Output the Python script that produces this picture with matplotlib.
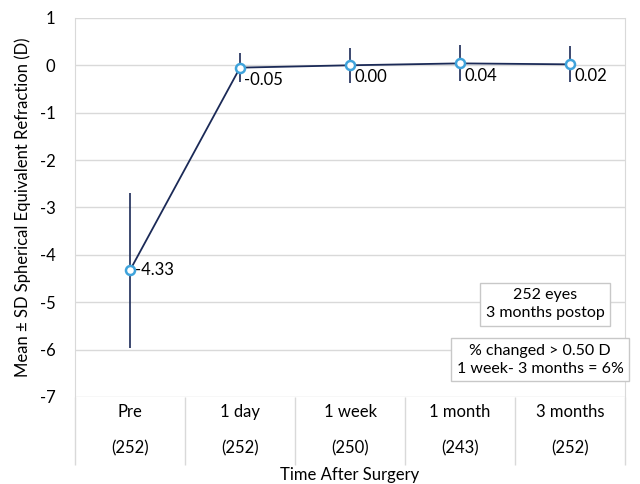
import numpy as np
import matplotlib
matplotlib.use("Agg")
import matplotlib.pyplot as plt

plt.rcParams['font.family'] = ['Lato', 'DejaVu Sans']

categories = ["Pre", "1 day", "1 week", "1 month", "3 months"]
counts = ["(252)", "(252)", "(250)", "(243)", "(252)"]
mean_se = [-4.33, -0.05, 0.00, 0.04, 0.02]
sd_se = [1.63, 0.30, 0.37, 0.38, 0.38]
value_labels = ["-4.33", "-0.05", "0.00", "0.04", "0.02"]

line_col = "#1b2a57"
marker_col = "#3fa3db"
grid_col = "#d9d9d9"
fs = 12

fig = plt.figure(figsize=(6.4, 4.84), dpi=100)
ax = fig.add_axes([0.117, 0.180, 0.860, 0.783])

x = np.arange(len(categories))
ax.errorbar(x, mean_se, yerr=sd_se, fmt="none", ecolor=line_col, elinewidth=1.2, capsize=0, zorder=2)
ax.plot(x, mean_se, color=line_col, lw=1.3, zorder=3)
ax.plot(x, mean_se, "o", ms=6.5, mfc="white", mec=marker_col, mew=1.8, zorder=4)

for xi, yi, lab in zip(x, mean_se, value_labels):
    if xi == 0:
        ax.annotate(lab, (xi, yi), xytext=(4, 0), textcoords="offset points",
                    ha="left", va="center", fontsize=fs)
    else:
        ax.annotate(lab, (xi, yi), xytext=(3, -3), textcoords="offset points",
                    ha="left", va="top", fontsize=fs)

ax.set_xlim(-0.5, 4.5)
ax.set_ylim(-7, 1)
ax.set_yticks(range(-7, 2))
ax.set_yticklabels([str(v) for v in range(-7, 2)], fontsize=fs)
ax.tick_params(axis="y", length=0, pad=14)
ax.set_xticks([])
ax.yaxis.grid(True, color=grid_col, lw=1)
ax.set_axisbelow(True)
for s in ["left", "right"]:
    ax.spines[s].set_color(grid_col)
for s in ["top", "bottom"]:
    ax.spines[s].set_visible(False)

ax.set_ylabel("Mean ± SD Spherical Equivalent Refraction (D)", fontsize=fs, labelpad=6)

# category table below the plot
xt = ax.get_xaxis_transform()
ax.vlines(np.arange(-0.5, 5.0, 1.0), -0.18, 0, transform=xt, color=grid_col, lw=1, clip_on=False)
for xi, cat, n in zip(x, categories, counts):
    ax.text(xi, -0.04, cat, transform=xt, ha="center", va="center", fontsize=fs)
    ax.text(xi, -0.135, n, transform=xt, ha="center", va="center", fontsize=fs)
ax.text(2, -0.205, "Time After Surgery", transform=xt, ha="center", va="center", fontsize=fs)

box = dict(boxstyle="square,pad=0.35", fc="white", ec="#c8c8c8", lw=1)
ax.text(0.855, 0.245, "252 eyes\n3 months postop", transform=ax.transAxes,
        ha="center", va="center", fontsize=11.5, bbox=box, linespacing=1.35)
ax.text(0.845, 0.098, "% changed > 0.50 D\n1 week- 3 months = 6%", transform=ax.transAxes,
        ha="center", va="center", fontsize=11.5, bbox=box, linespacing=1.35)

fig.savefig("out.png", dpi=100)
